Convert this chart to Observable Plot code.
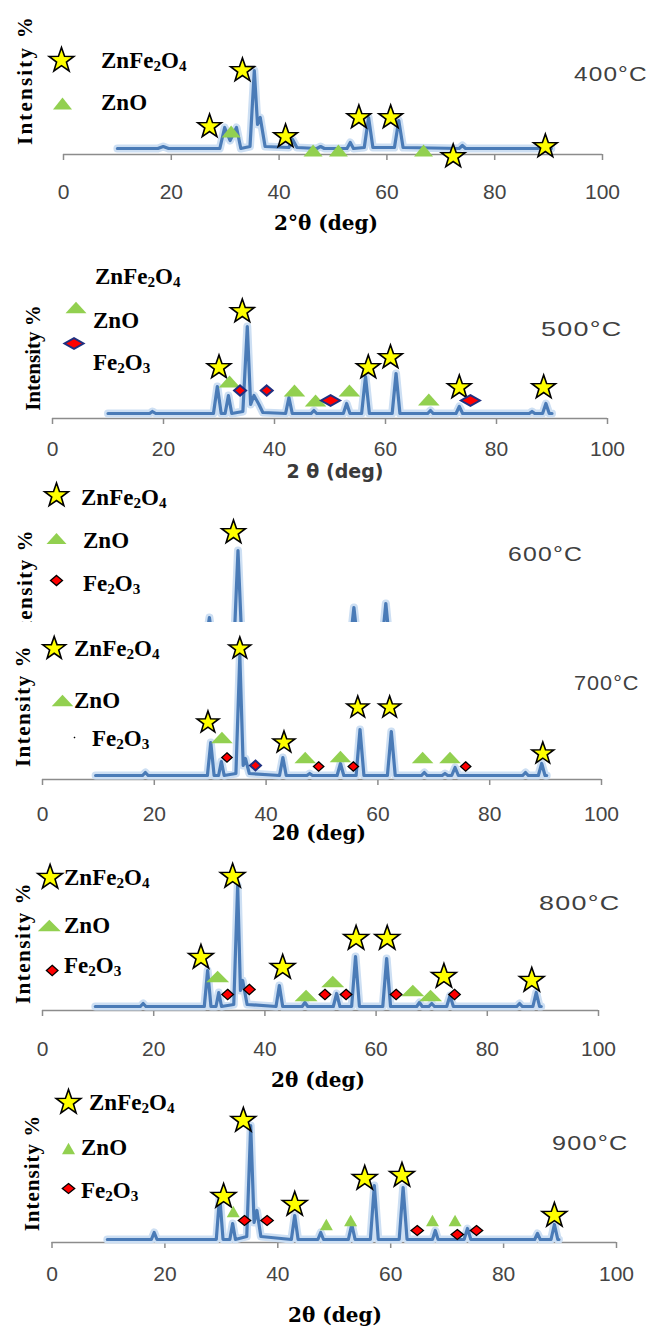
<!DOCTYPE html>
<html><head><meta charset="utf-8">
<script src="https://cdn.jsdelivr.net/npm/d3@7"></script>
<script src="https://cdn.jsdelivr.net/npm/@observablehq/plot@0.6"></script>
<style>
html,body{margin:0;padding:0;background:#fff;}
#page{position:relative;width:647px;height:1329px;overflow:hidden;background:#fff;}
.panel{position:absolute;left:0;width:647px;}
.panel svg{position:absolute;left:0;top:0;}
.t{position:absolute;white-space:nowrap;line-height:1;}
.leg{font-family:"Liberation Serif","Times New Roman",serif;font-weight:bold;font-size:23px;color:#000;transform:translateY(-50%);}
.leg sub{font-size:0.66em;vertical-align:baseline;position:relative;top:0.22em;}
.temp{font-family:"Liberation Sans",Arial,sans-serif;font-size:21px;color:#404040;letter-spacing:1px;transform-origin:0 50%;}
.ylab{font-family:"Liberation Serif","Times New Roman",serif;font-weight:bold;font-size:21px;color:#000;transform:translate(-50%,-50%) rotate(-90deg);}
.xlab{font-family:"DejaVu Serif",serif;font-weight:bold;font-size:20px;color:#000;transform:translate(-50%,-50%);}
.xlab2{font-family:"DejaVu Sans",sans-serif;font-weight:bold;font-size:19px;color:#3a3a3a;transform:translate(-50%,-50%);}
</style>
</head><body>
<div id="page"></div>
<script>
// ---------- data (2θ in degrees, intensity in arbitrary units) ----------
const xTicks = [0, 20, 40, 60, 80, 100];
const tempLabels = ["400°C", "500°C", "600°C", "700°C", "800°C", "900°C"];

const xrd400 = [[10,6],[17.5,6],[18.5,8],[19.5,6],[29,6],[29.9,27],[30.9,14],[32.1,27],[32.9,6],[34.6,8],[35.4,84],[36.0,30],[36.5,37],[37.4,8],[41.8,7],[42.5,15],[43.3,7],[47,6],[47.7,8],[48.4,6],[52.6,6],[53.2,12],[53.8,6],[55.8,7],[56.6,37],[57.4,7],[61.4,7],[62.2,34],[63,7],[73.4,6],[74,9],[74.6,6],[88,6],[88.7,9],[89.4,6],[90.5,6]];
const star400 = [[27.1,28],[33.2,84],[41.2,18],[54.8,37],[60.7,37],[72.3,-2],[89.4,8]];
const zno400 = [[31.1,23],[46.3,4],[51.0,4],[66.8,4]];

const xrd500 = [[10,5],[17.5,5],[18,7],[18.6,5],[29,5],[29.7,32],[30.4,5],[31.1,5],[31.7,23],[32.3,5],[34.3,7],[35.1,92],[35.7,14],[36.3,23],[37.2,14],[37.9,6],[42,5],[42.6,21],[43.2,5],[46.6,5],[47.1,8],[47.6,5],[52.4,5],[53,15],[53.6,5],[55.7,5],[56.4,42],[57.1,5],[61.2,5],[61.9,45],[62.6,5],[67.6,5],[68.1,8],[68.6,5],[72.7,5],[73.3,12],[73.9,5],[85.9,5],[86.4,7],[86.9,5],[88.3,5],[88.9,15],[89.5,5],[90,5]];
const star500 = [[30.0,51],[34.2,107],[56.9,51],[60.9,61],[73.3,31],[88.5,31]];
const zno500 = [[31.9,37],[43.6,28],[47.4,18],[53.5,28],[67.8,19]];
const fe500small = [[33.8,28],[38.6,28]];
const fe500big = [[50.1,18],[75.3,18]];

const xrd600 = [[10,5],[17.6,5],[18.1,8],[18.6,5],[30,5],[30.7,31],[31.3,5],[31.6,5],[32.1,18],[32.6,5],[35.1,5],[35.8,98],[36.5,5],[42.3,5],[42.9,20],[43.5,5],[52.6,5],[53.2,14],[53.8,5],[55.8,5],[56.5,41],[57.2,5],[61.5,5],[62.2,45],[62.9,5],[73,5],[73.6,12],[74.2,5],[88.3,5],[88.9,14],[89.5,5],[90,5]];
const star600 = [[35.0,116]];

const xrd700 = [[9.5,4],[17.9,4],[18.4,7],[18.9,4],[29.5,4],[30.1,37],[30.7,4],[31.5,4],[32,18],[32.5,4],[34.6,6],[35.3,124],[35.9,14],[36.3,21],[37,6],[42.4,4],[43,22],[43.6,4],[47.3,4],[47.8,6],[48.3,4],[52.7,4],[53.3,16],[53.9,4],[56.1,4],[56.8,50],[57.5,4],[61.7,4],[62.4,48],[63.1,4],[67.8,4],[68.3,7],[68.8,4],[71.5,4],[72,6],[72.5,4],[73.2,4],[73.8,12],[74.4,4],[85.9,4],[86.4,7],[86.9,4],[88.7,4],[89.3,16],[89.9,4],[90.2,4]];
const star700 = [[29.6,57],[35.3,131],[43.2,37],[56.4,72],[62.1,72],[89.5,26]];
const zno700 = [[32.1,42],[47.0,22],[53.3,23],[68.0,22],[72.9,22]];
const fe700 = [[33.0,22],[49.4,13],[55.6,13],[75.7,13]];
const fe700blue = [[38.1,14]];

const xrd800 = [[9.5,4],[17.6,4],[18.1,7],[18.6,4],[29.1,4],[29.7,40],[30.3,4],[31.2,4],[31.7,18],[32.2,4],[34.4,6],[35.1,125],[35.6,20],[36,30],[36.8,6],[42,4],[42.6,25],[43.2,4],[46.7,4],[47.2,8],[47.7,4],[52.3,4],[52.9,17],[53.5,4],[55.6,4],[56.3,54],[57,4],[61.2,4],[61.9,52],[62.6,4],[67.3,4],[67.8,8],[68.3,4],[69.5,4],[70,7],[70.5,4],[72.7,4],[73.3,15],[73.9,4],[85.3,4],[85.8,7],[86.3,4],[88.2,4],[88.8,18],[89.4,4],[89.7,4]];
const star800 = [[28.5,53],[34.2,134],[43.2,43],[56.4,72],[62.0,72],[72.2,34],[88.0,30]];
const zno800 = [[31.5,34],[47.4,15],[52.2,29],[66.6,20],[69.8,15]];
const fe800 = [[33.3,16],[37.2,21],[50.8,16],[54.6,16],[63.6,16],[74.1,16]];

const xrd900 = [[9.8,3],[17.6,3],[18.1,10],[18.6,3],[29.1,3],[29.7,47],[30.3,3],[31.5,3],[32,19],[32.5,3],[34.5,6],[35.2,117],[35.8,20],[36.3,32],[37,6],[42.4,3],[43,27],[43.6,3],[47.1,3],[47.6,10],[48.1,3],[52.5,3],[53.1,18],[53.7,3],[56.4,3],[57.1,57],[57.8,3],[61.5,3],[62.2,55],[62.9,3],[67.4,3],[67.9,12],[68.4,3],[73,3],[73.6,14],[74.2,3],[85.5,3],[86,9],[86.5,3],[88.4,3],[89,18],[89.6,3],[89.8,3]];
const star900 = [[30.4,46],[33.9,122],[43.0,38],[55.4,64],[62.0,67],[89.0,27]];
const zno900 = [[32.1,31],[48.6,18],[52.9,22],[67.4,22],[71.4,22]];
const fe900 = [[34.1,22],[38.1,22],[64.7,12],[71.8,8],[75.2,12]];

// ---------- symbols ----------
const starSym = {draw(ctx, size) {
  const R = Math.sqrt(size / Math.PI), r = R * 0.4;
  for (let i = 0; i < 10; i++) {
    const a = -Math.PI / 2 + i * Math.PI / 5, rad = i % 2 ? r : R;
    const x = Math.cos(a) * rad, y = Math.sin(a) * rad;
    if (i) ctx.lineTo(x, y); else ctx.moveTo(x, y);
  }
  ctx.closePath();
}};
const triSym = (aspect) => ({draw(ctx, size) {
  const R = Math.sqrt(size / Math.PI), h = R * aspect;
  ctx.moveTo(0, -h / 2); ctx.lineTo(R, h / 2); ctx.lineTo(-R, h / 2); ctx.closePath();
}});
const diaSym = (aspect) => ({draw(ctx, size) {
  const R = Math.sqrt(size / Math.PI), h = R * aspect;
  ctx.moveTo(0, -h); ctx.lineTo(R, 0); ctx.lineTo(0, h); ctx.lineTo(-R, 0); ctx.closePath();
}});

const STAR = {fill: "#ffff00", stroke: "#000", strokeWidth: 1.6};
const TRI = {fill: "#92d050", stroke: "none"};
const DIA = {fill: "#ff0000", stroke: "#000", strokeWidth: 1.3};
const DIAB = {fill: "#ff0000", stroke: "#1f2f80", strokeWidth: 2};

const F = {
  zf: "ZnFe<sub>2</sub>O<sub>4</sub>",
  zo: "ZnO",
  fe: "Fe<sub>2</sub>O<sub>3</sub>"
};

// ---------- layout ----------
const panels = [
  {top: 0, height: 238, axisY: 154, x0: 63, x100: 602, pad: 29.6, line: xrd400,
   groups: [[star400, starSym, 12.5, STAR], [zno400, triSym(1.26), 9.5, TRI]],
   legend: [[starSym, 13, STAR, 61, 60], [triSym(1.26), 9.5, TRI, 62, 103]],
   texts: [["leg", F.zf, 101, 60], ["leg", F.zo, 101, 102], ["temp", tempLabels[0], 574, 73, 1.16],
           ["ylab", "Intensity %", 25, 80, 2.2], ["xlab", "2°θ (deg)", 326, 223]]},
  {top: 238, height: 240, axisY: 418, x0: 52, x100: 607, pad: 23, line: xrd500,
   groups: [[star500, starSym, 12.5, STAR], [zno500, triSym(1.1), 10.8, TRI], [fe500small, diaSym(0.85), 6, DIAB], [fe500big, diaSym(0.56), 9.5, DIAB]],
   legend: [[triSym(1.1), 10.5, TRI, 75.5, 307], [diaSym(0.56), 9.5, DIAB, 73.5, 343]],
   texts: [["leg", F.zf, 95, 276], ["leg", F.zo, 93, 320], ["leg", F.fe, 93, 362], ["temp", tempLabels[1], 541, 328, 1.28],
           ["ylab", "Intensity %", 33, 358, 0], ["xlab2", "2 θ (deg)", 335, 471]]},
  {top: 478, height: 200, clip: 144, noAxis: true, axisY: 648, x0: 37, x100: 597, pad: 20, line: xrd600,
   groups: [[star600, starSym, 12.5, STAR]],
   legend: [[starSym, 12.5, STAR, 56, 495], [triSym(1.1), 10, TRI, 56, 538], [diaSym(0.85), 6, DIA, 56, 580]],
   texts: [["leg", F.zf, 81, 497], ["leg", F.zo, 83, 540], ["leg", F.fe, 83, 583], ["temp", tempLabels[2], 508, 553, 1.18],
           ["ylab", "Intensity %", 25, 590, 1.5]]},
  {top: 622, height: 218, axisY: 779, x0: 42, x100: 601, pad: 27, line: xrd700,
   groups: [[star700, starSym, 11.5, STAR], [zno700, triSym(1.08), 10.8, TRI], [fe700, diaSym(0.9), 5.2, DIA], [fe700blue, diaSym(0.9), 5.5, DIAB]],
   legend: [[starSym, 12, STAR, 53.7, 648], [triSym(1.08), 10.8, TRI, 62, 700], [diaSym(1), 1, {fill: "#000"}, 74, 737]],
   texts: [["leg", F.zf, 74, 648], ["leg", F.zo, 74, 700], ["leg", F.fe, 92, 738], ["temp", tempLabels[3], 574, 682, 1.03],
           ["ylab", "Intensity %", 23, 706, 1.5], ["xlab", "2θ (deg)", 319, 833]]},
  {top: 850, height: 240, axisY: 1010, x0: 42, x100: 598, pad: 31, line: xrd800,
   groups: [[star800, starSym, 13, STAR], [zno800, triSym(1.02), 11.5, TRI], [fe800, diaSym(0.9), 5.8, DIA]],
   legend: [[starSym, 13, STAR, 49.6, 877], [triSym(1.02), 11.5, TRI, 48.8, 925], [diaSym(0.9), 5.8, DIA, 51.7, 970]],
   texts: [["leg", F.zf, 64, 877], ["leg", F.zo, 64, 925], ["leg", F.fe, 64, 965], ["temp", tempLabels[4], 539, 902, 1.28],
           ["ylab", "Intensity %", 23, 943, 1.5], ["xlab", "2θ (deg)", 318, 1080]]},
  {top: 1090, height: 239, axisY: 1242, x0: 51.5, x100: 616, pad: 23.6, line: xrd900,
   groups: [[star900, starSym, 13, STAR], [zno900, triSym(1.8), 6.5, TRI], [fe900, diaSym(0.8), 6.2, DIA]],
   legend: [[starSym, 13, STAR, 68, 1102], [triSym(1.8), 6.5, TRI, 68, 1148], [diaSym(0.8), 6.2, DIA, 68, 1188]],
   texts: [["leg", F.zf, 89, 1102], ["leg", F.zo, 81, 1147], ["leg", F.fe, 81, 1190], ["temp", tempLabels[5], 552, 1142, 1.2],
           ["ylab", "Intensity %", 32, 1173, 1], ["xlab", "2θ (deg)", 335, 1315]]}
];

const page = document.getElementById("page");

for (const p of panels) {
  const H = p.height, aL = p.axisY - p.top;
  const sx = px => (px - p.x0) / (p.x100 - p.x0) * 100;
  const sy = py => p.axisY - py;
  const marks = [
    Plot.ruleY([0], {stroke: "#8c8c8c", strokeWidth: 1.5}),
    Plot.ruleX(xTicks, {x: d => d, y1: 0, y2: -6, stroke: "#8c8c8c", strokeWidth: 1.5}),
    Plot.line(p.line, {x: d => d[0], y: d => d[1], stroke: "#cddff3", strokeWidth: 8, strokeLinejoin: "round", strokeLinecap: "round"}),
    Plot.line(p.line, {x: d => d[0], y: d => d[1], stroke: "#4a7bb7", strokeWidth: 3.2, strokeLinejoin: "round"})
  ];
  for (const [data, sym, r, st] of p.groups) {
    marks.push(Plot.dot(data, {x: d => d[0], y: d => d[1], symbol: sym, r, ...st}));
  }
  for (const [sym, r, st, px, py] of p.legend) {
    marks.push(Plot.dot([[sx(px), sy(py)]], {x: d => d[0], y: d => d[1], symbol: sym, r, ...st}));
  }
  const xOpts = p.noAxis
    ? {domain: [0, 100], axis: null}
    : {domain: [0, 100], ticks: xTicks, tickSize: 0, tickPadding: p.pad, label: null, tickFormat: d => String(d)};
  const chart = Plot.plot({
    width: 647, height: H,
    marginLeft: p.x0, marginRight: 647 - p.x100, marginTop: 0, marginBottom: H - aL,
    x: xOpts,
    y: {domain: [0, aL], axis: null},
    style: {background: "transparent", overflow: "visible", fontFamily: "Liberation Sans, Arial, sans-serif", fontSize: "21px", color: "#444"},
    marks
  });
  const div = document.createElement("div");
  div.className = "panel";
  div.style.top = p.top + "px";
  div.style.height = (p.clip || H) + "px";
  if (p.clip) div.style.overflow = "hidden";
  div.appendChild(chart);
  for (const [cls, html, x, y, extra] of p.texts) {
    const t = document.createElement("div");
    t.className = "t " + cls;
    t.innerHTML = html;
    t.style.left = x + "px";
    t.style.top = (y - p.top) + "px";
    if (cls === "temp") t.style.transform = `translateY(-50%) scaleX(${extra})`;
    else if (extra) t.style.letterSpacing = extra + "px";
    div.appendChild(t);
  }
  page.appendChild(div);
}
</script>
</body></html>
